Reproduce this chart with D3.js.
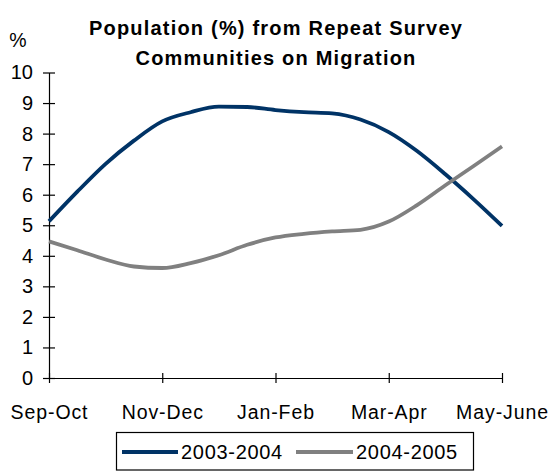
<!DOCTYPE html>
<html>
<head>
<meta charset="utf-8">
<script src="https://cdn.jsdelivr.net/npm/d3@7"></script>
<style>
  html, body { margin: 0; padding: 0; background: #fff; }
  svg { display: block; font-family: "Liberation Sans", Arial, sans-serif; }
</style>
</head>
<body>
<svg id="chart" width="553" height="472"></svg>
<script>
// ---- data ----
const categories = ["Sep-Oct", "Nov-Dec", "Jan-Feb", "Mar-Apr", "May-June"];
const stepsPerCategory = 4; // readings per period between labelled categories
const series2003 = [5.13, 6.10, 7.01, 7.77, 8.40, 8.70, 8.88, 8.87, 8.77, 8.70, 8.66, 8.46, 8.05, 7.43, 6.67, 5.85, 4.98];
const series2004 = [4.47, 4.18, 3.88, 3.65, 3.60, 3.76, 4.02, 4.36, 4.60, 4.72, 4.80, 4.85, 5.12, 5.66, 6.31, 6.94, 7.58];
const seriesNames = ["2003-2004", "2004-2005"];
const yTicks = [0, 1, 2, 3, 4, 5, 6, 7, 8, 9, 10];
const titleLines = ["Population (%) from Repeat Survey", "Communities on Migration"];
const yLabel = "%";

const colors = ["#003366", "#808080"];

// ---- layout ----
const svg = d3.select("#chart");
const plotLeft = 49, plotRight = 502, plotTop = 72.5, plotBottom = 378;

const x = d3.scaleLinear()
  .domain([0, (categories.length - 1) * stepsPerCategory])
  .range([plotLeft, plotRight]);
const xCat = d3.scalePoint().domain(categories).range([plotLeft, plotRight]);
const y = d3.scaleLinear().domain([0, 10]).range([plotBottom, plotTop]);

// title
const title = svg.append("text")
  .attr("x", 276).attr("text-anchor", "middle")
  .style("font-weight", "bold").style("font-size", "20px")
  .style("letter-spacing", "1.2px");
title.selectAll("tspan").data(titleLines).join("tspan")
  .attr("x", 276).attr("y", (d, i) => 35 + i * 30).text(d => d);

// y label
svg.append("text").attr("x", 18).attr("y", 47).attr("text-anchor", "middle")
  .style("font-size", "19.5px").text(yLabel);

// y axis
const yAxis = svg.append("g").attr("transform", `translate(${plotLeft},0)`)
  .call(d3.axisLeft(y).tickValues(yTicks).tickFormat(d3.format("d")).tickSizeOuter(0).tickPadding(10));
yAxis.select(".domain").attr("stroke", "#000").attr("stroke-width", 1.2);
yAxis.selectAll(".tick line").attr("x1", 6).attr("x2", -6).attr("stroke", "#000").attr("stroke-width", 1.2);
yAxis.selectAll(".tick text").attr("x", -16).style("font-size", "20px").style("font-family", "Liberation Sans, Arial, sans-serif").attr("fill", "#000");

// x axis
const xAxis = svg.append("g").attr("transform", `translate(0,${plotBottom})`)
  .call(d3.axisBottom(xCat).tickSizeOuter(0));
xAxis.select(".domain").attr("stroke", "#000").attr("stroke-width", 1.2);
xAxis.selectAll(".tick line").attr("y1", -5).attr("y2", 5).attr("stroke", "#000").attr("stroke-width", 1.2);
xAxis.selectAll(".tick text").attr("y", 41).attr("dy", 0)
  .style("font-size", "19.5px").style("letter-spacing", "0.9px")
  .style("font-family", "Liberation Sans, Arial, sans-serif").attr("fill", "#000");

// lines
const line = d3.line().x((d, i) => x(i)).y(d => y(d)).curve(d3.curveMonotoneX);
[series2003, series2004].forEach((s, i) => {
  svg.append("path").datum(s).attr("d", line)
    .attr("fill", "none").attr("stroke", colors[i]).attr("stroke-width", 3.8)
    .attr("stroke-linejoin", "round").attr("stroke-linecap", "butt");
});

// legend
const lg = svg.append("g");
lg.append("rect").attr("x", 116.5).attr("y", 432.5).attr("width", 357).attr("height", 37.5)
  .attr("fill", "#fff").attr("stroke", "#000").attr("stroke-width", 1.2);
const legendItems = [{x0: 122, x1: 178, tx: 181}, {x0: 296, x1: 353, tx: 356}];
legendItems.forEach((it, i) => {
  lg.append("line").attr("x1", it.x0).attr("x2", it.x1).attr("y1", 452).attr("y2", 452)
    .attr("stroke", colors[i]).attr("stroke-width", 3.8);
  lg.append("text").attr("x", it.tx).attr("y", 459)
    .style("font-size", "20px").style("letter-spacing", "0.7px").text(seriesNames[i]);
});
</script>
</body>
</html>
